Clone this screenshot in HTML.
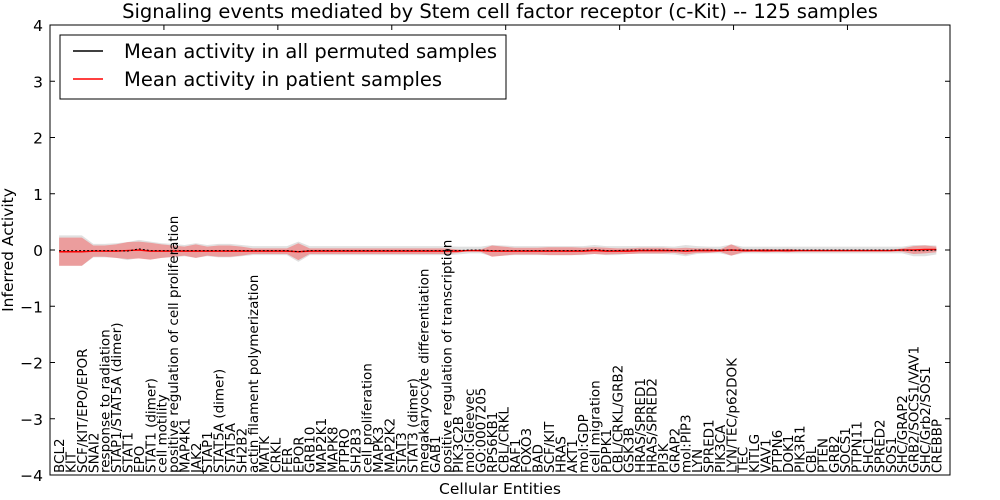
<!DOCTYPE html>
<html><head><meta charset="utf-8"><style>
body{margin:0;background:#fff;}
svg{display:block;font-family:"DejaVu Sans","Liberation Sans",sans-serif;}
</style></head><body>
<svg id="chart" width="1000" height="500" xmlns="http://www.w3.org/2000/svg">
<text x="500" y="18" text-anchor="middle" font-size="19.5">Signaling events mediated by Stem cell factor receptor (c-Kit) -- 125 samples</text>
<g id="plot"></g>
<text x="500" y="494" text-anchor="middle" font-size="15.5">Cellular Entities</text>
<text transform="translate(13,250) rotate(-90)" text-anchor="middle" font-size="15.5">Inferred Activity</text>
</svg>
<script>
const categories=["BCL2","KIT","SCF/KIT/EPO/EPOR","SNAI2","response to radiation","STAP1/STAT5A (dimer)","STAT1","EPO","STAT1 (dimer)","cell motility","positive regulation of cell proliferation","MAP4K1","JAK2","STAP1","STAT5A (dimer)","STAT5A","SH2B2","actin filament polymerization","MATK","CRKL","FER","EPOR","GRB10","MAP2K1","MAPK8","PTPRO","SH2B3","cell proliferation","MAPK3","MAP2K2","STAT3","STAT3 (dimer)","megakaryocyte differentiation","GAB1","positive regulation of transcription","PIK3C2B","mol:Gleevec","GO:0007205","RPS6KB1","CBL/CRKL","RAF1","FOXO3","BAD","SCF/KIT","HRAS","AKT1","mol:GDP","cell migration","PDPK1","CBL/CRKL/GRB2","GSK3B","HRAS/SPRED1","HRAS/SPRED2","PI3K","GRAP2","mol:PIP3","LYN","SPRED1","PIK3CA","LYN/TEC/p62DOK","TEC","KITLG","VAV1","PTPN6","DOK1","PIK3R1","CBL","PTEN","GRB2","SOCS1","PTPN11","SHC1","SPRED2","SOS1","SHC/GRAP2","GRB2/SOCS1/VAV1","SHC/Grb2/SOS1","CREBBP"];
const patientMean=[-0.03,-0.03,-0.03,-0.02,-0.02,-0.02,-0.01,0.0,-0.02,-0.02,-0.02,-0.02,-0.02,-0.02,-0.02,-0.02,-0.02,-0.02,-0.02,-0.02,-0.02,-0.03,-0.02,-0.02,-0.02,-0.02,-0.02,-0.02,-0.02,-0.02,-0.02,-0.02,-0.02,-0.02,-0.02,-0.02,-0.01,-0.01,-0.02,-0.02,-0.02,-0.02,-0.02,-0.02,-0.02,-0.02,-0.02,-0.01,-0.02,-0.02,-0.02,-0.01,-0.01,-0.01,-0.01,-0.02,-0.01,-0.01,-0.01,0.0,-0.01,-0.01,-0.01,-0.01,-0.01,-0.01,-0.01,-0.01,-0.01,-0.01,-0.01,-0.01,-0.01,-0.01,0.0,0.0,0.01,0.01];
const patientStd=[0.25,0.25,0.25,0.1,0.1,0.12,0.15,0.15,0.15,0.12,0.1,0.08,0.12,0.08,0.1,0.1,0.08,0.05,0.05,0.05,0.05,0.15,0.05,0.05,0.05,0.05,0.05,0.05,0.05,0.05,0.05,0.05,0.05,0.05,0.05,0.03,0.0,0.02,0.1,0.08,0.06,0.06,0.06,0.07,0.07,0.07,0.06,0.06,0.06,0.05,0.05,0.05,0.05,0.05,0.04,0.06,0.04,0.04,0.02,0.1,0.03,0.02,0.03,0.02,0.03,0.01,0.01,0.01,0.01,0.01,0.01,0.01,0.01,0.01,0.03,0.07,0.07,0.05];
const permMean=[-0.01,-0.01,-0.01,-0.01,-0.01,-0.01,-0.02,0.02,-0.01,-0.01,-0.01,-0.01,-0.01,-0.01,-0.01,-0.01,-0.01,-0.01,-0.01,-0.01,-0.01,-0.03,-0.01,-0.01,-0.01,-0.01,-0.01,-0.01,-0.01,-0.01,-0.01,-0.01,-0.01,-0.01,-0.01,-0.01,0.0,0.0,-0.01,-0.01,-0.01,-0.01,-0.01,-0.01,-0.01,-0.01,-0.01,0.01,-0.01,-0.01,0.0,0.0,0.0,0.0,-0.01,-0.01,0.0,0.0,0.0,0.0,0.0,0.0,0.0,0.0,0.0,0.0,0.0,0.0,0.0,0.0,0.0,0.0,0.0,0.0,0.0,-0.01,-0.01,0.0];
const permStd=[0.27,0.27,0.27,0.12,0.12,0.13,0.16,0.16,0.16,0.13,0.12,0.1,0.13,0.1,0.12,0.12,0.1,0.08,0.08,0.08,0.08,0.18,0.08,0.08,0.08,0.08,0.08,0.08,0.08,0.08,0.08,0.08,0.08,0.08,0.08,0.07,0.06,0.06,0.1,0.09,0.08,0.08,0.08,0.08,0.08,0.08,0.08,0.08,0.08,0.08,0.07,0.07,0.07,0.07,0.07,0.1,0.07,0.06,0.06,0.1,0.06,0.06,0.06,0.06,0.06,0.06,0.06,0.06,0.06,0.06,0.06,0.06,0.06,0.06,0.06,0.1,0.1,0.08];
const yTicks=[-4,-3,-2,-1,0,1,2,3,4];
const L=50,R=950,T=25,B=475;
const xs=i=>L+(i+0.8)*(R-L)/79;
const ys=v=>T+(4-v)*(B-T)/8;
const NS='http://www.w3.org/2000/svg';
const g=document.getElementById('plot');
function mk(t,a,p){const e=document.createElementNS(NS,t);for(const k in a)e.setAttribute(k,a[k]);(p||g).appendChild(e);return e;}
function band(m,s){let up=m.map((v,i)=>xs(i)+','+ys(v+s[i]));let dn=m.map((v,i)=>xs(i)+','+ys(v-s[i])).reverse();return up.concat(dn).join(' ');}
const gb=mk('polygon',{points:band(permMean,permStd),fill:'#d8d8d8','fill-opacity':'0.8'});


const rb=mk('polygon',{points:band(patientMean,patientStd),fill:'#f08080','fill-opacity':'0.7'});


const rl=mk('polyline',{points:patientMean.map((v,i)=>xs(i)+','+ys(v)).join(' '),fill:'none',stroke:'#f00','stroke-width':'1.5'});


const bl=mk('polyline',{points:permMean.map((v,i)=>xs(i)+','+ys(v)).join(' '),fill:'none',stroke:'#000','stroke-width':'1','stroke-dasharray':'2,2'});


const fr=mk('rect',{x:L,y:T,width:R-L,height:B-T,fill:'none',stroke:'#000','stroke-width':'1'});


yTicks.forEach(v=>{
  const y=ys(v);
  mk('line',{x1:L,x2:L+5,y1:y,y2:y,stroke:'#000'});
  mk('line',{x1:R,x2:R-5,y1:y,y2:y,stroke:'#000'});
  const t=mk('text',{x:L-7,y:y+6,'text-anchor':'end','font-size':'15.5'});
  t.textContent=(v<0?'\u2212':'')+Math.abs(v);
  
  
});
categories.forEach((c,i)=>{
  const x=xs(i);
  if(i%10===9){mk('line',{x1:L+(i+1)*(R-L)/79,x2:L+(i+1)*(R-L)/79,y1:T,y2:T+5,stroke:'#000'});}
  const t=mk('text',{transform:'translate('+(x+5)+','+(B-2)+') rotate(-90)','font-size':'13.5'});
  t.textContent=c;
  
  
});
const lg=mk('g',{});


mk('rect',{x:60,y:35,width:446,height:64,fill:'#fff',stroke:'#000'},lg);
mk('line',{x1:73,x2:103,y1:51,y2:51,stroke:'#000','stroke-width':'1.5'},lg);
mk('line',{x1:73,x2:103,y1:79,y2:79,stroke:'#f00','stroke-width':'1.5'},lg);
const t1=mk('text',{x:124,y:58,'font-size':'19.5'},lg);t1.textContent='Mean activity in all permuted samples';


const t2=mk('text',{x:124,y:86,'font-size':'19.5'},lg);t2.textContent='Mean activity in patient samples';


</script>
</body></html>
